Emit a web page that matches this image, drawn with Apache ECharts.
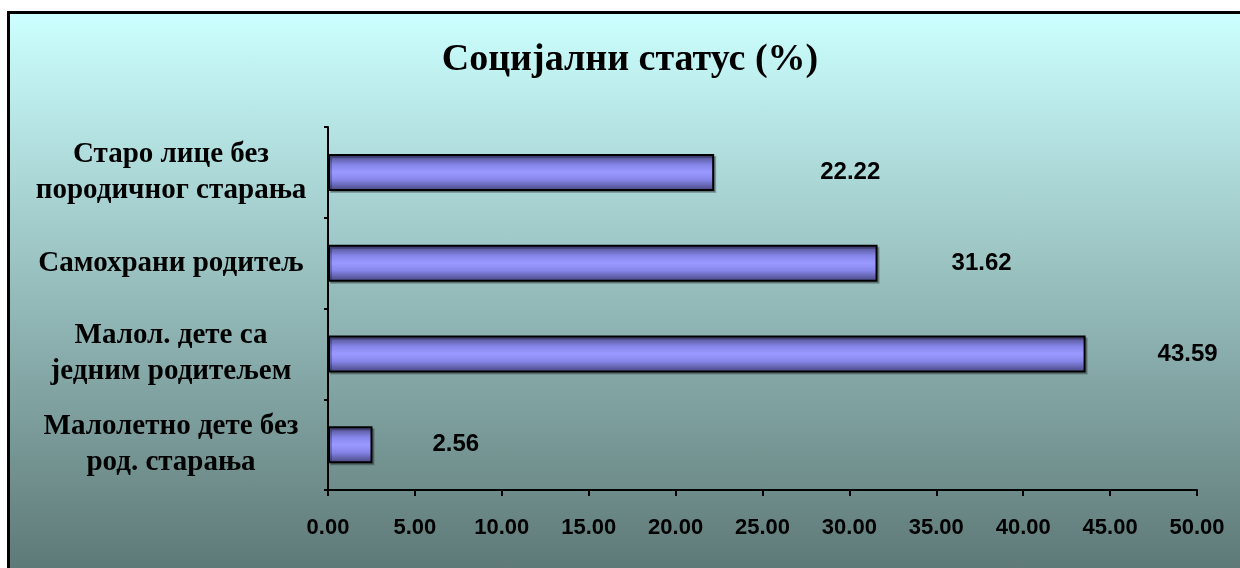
<!DOCTYPE html>
<html>
<head>
<meta charset="utf-8">
<script src="https://cdn.jsdelivr.net/npm/echarts@6/dist/echarts.min.js"></script>
<style>
  html, body { margin: 0; padding: 0; background: #ffffff; overflow: hidden; width: 1240px; height: 568px; }
  #frame {
    position: absolute; left: 7px; top: 11px;
    width: 1240px; height: 560px;
    border-left: 3px solid #000; border-top: 3px solid #000;
    background: linear-gradient(to bottom, #ccffff 0%, #5d7876 100%);
  }
  #chart { width: 1240px; height: 554px; }
</style>
</head>
<body>
<div id="frame"><div id="chart"></div></div>
<script>
// категорије (одоздо нагоре, као у Excel-у)
const categories = [
  'Малолетно дете без\nрод. старања',
  'Малол. дете са\nједним родитељем',
  'Самохрани родитељ',
  'Старо лице без\nпородичног старања'
];
const values = [2.56, 43.59, 31.62, 22.22];
const xTicks = [0, 5, 10, 15, 20, 25, 30, 35, 40, 45, 50];
const titleText = 'Социјални статус (%)';

// размак натписа од краја траке
const labelGap = [60, 72, 74, 106];

const barColor = {
  type: 'linear', x: 0, y: 0, x2: 0, y2: 1,
  colorStops: [
    { offset: 0, color: '#44447a' },
    { offset: 0.3, color: '#8686ea' },
    { offset: 0.5, color: '#9999ff' },
    { offset: 0.7, color: '#8686ea' },
    { offset: 1, color: '#44447a' }
  ]
};

const myChart = echarts.init(document.getElementById('chart'));
const option = {
  animation: false,
  title: {
    text: titleText,
    left: 'center',
    top: 22,
    textStyle: { fontFamily: 'Liberation Serif', fontWeight: 'bold', fontSize: 38, color: '#000' }
  },
  grid: { left: 318, top: 113, width: 869, height: 363 },
  xAxis: {
    type: 'value',
    min: xTicks[0],
    max: xTicks[xTicks.length - 1],
    interval: 5,
    axisLine: { show: true, lineStyle: { color: '#000', width: 2 } },
    axisTick: { show: true, length: 6, lineStyle: { color: '#000', width: 2 } },
    splitLine: { show: false },
    axisLabel: {
      margin: 27,
      fontFamily: 'Liberation Sans Narrow, Liberation Sans, Arial',
      fontWeight: 'bold',
      fontSize: 22,
      color: '#000',
      formatter: v => v.toFixed(2)
    }
  },
  yAxis: {
    type: 'category',
    data: categories,
    axisLine: { show: true, lineStyle: { color: '#000', width: 2 } },
    axisTick: { show: true, length: 4, lineStyle: { color: '#000', width: 2 } },
    axisLabel: {
      margin: 157,
      align: 'center',
      fontFamily: 'Liberation Serif',
      fontWeight: 'bold',
      fontSize: 29,
      lineHeight: 36,
      color: '#000'
    }
  },
  series: [{
    type: 'bar',
    barWidth: 37,
    data: values.map((v, i) => ({
      value: v,
      label: { distance: labelGap[i] }
    })),
    itemStyle: {
      color: barColor,
      borderColor: '#000',
      borderWidth: 2,
      shadowColor: 'rgba(0,0,0,0.25)',
      shadowOffsetX: 2,
      shadowOffsetY: 2
    },
    label: {
      show: true,
      position: 'right',
      fontFamily: 'Liberation Sans',
      fontWeight: 'bold',
      fontSize: 24,
      color: '#000',
      formatter: p => p.value.toFixed(2)
    }
  }]
};
myChart.setOption(option);
</script>
</body>
</html>
